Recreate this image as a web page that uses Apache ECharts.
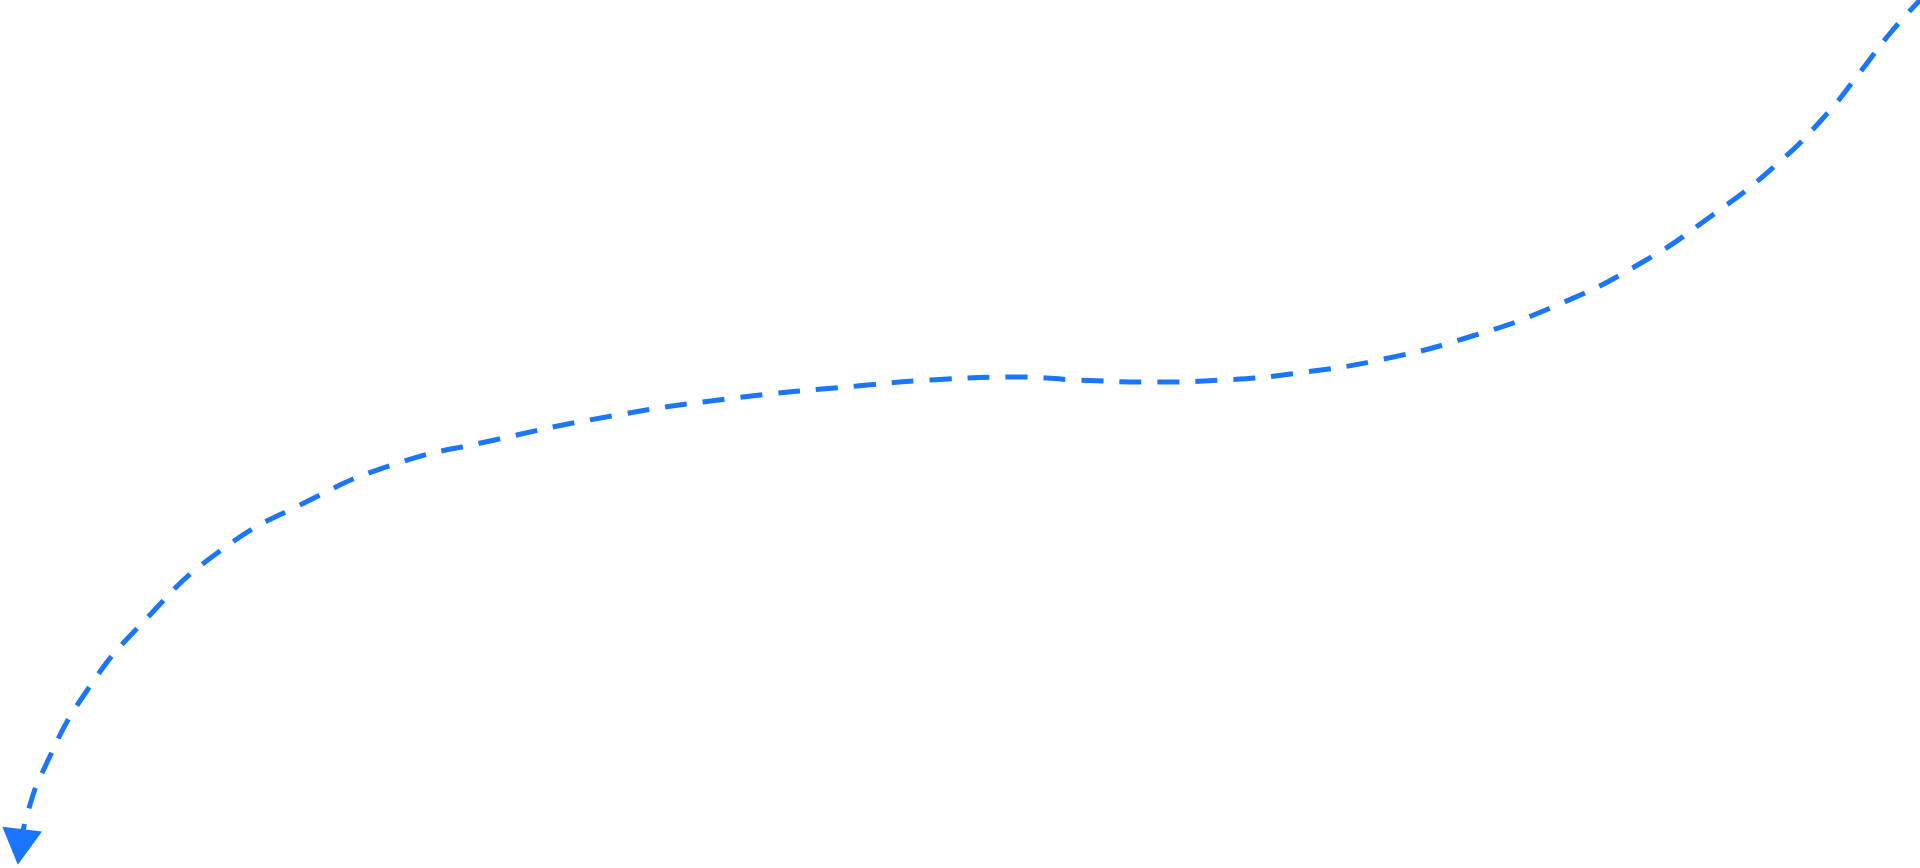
<!DOCTYPE html>
<html><head><meta charset="utf-8">
<script src="https://cdn.jsdelivr.net/npm/echarts@6/dist/echarts.min.js"></script>
<style>html,body{margin:0;padding:0;background:#fff}#c{width:1920px;height:868px}</style>
</head><body><div id="c"></div>
<script>
const xs = [1924, 1892, 1861, 1825, 1776, 1714, 1641, 1555, 1469, 1384, 1298, 1224, 1151, 1078, 1016, 931, 857, 735, 612, 490, 392, 306, 220, 147, 86, 43, 27, 20];
const ys = [-4, 31, 71, 116, 165, 214, 263, 306, 337, 359, 373, 380, 382, 380, 377, 380, 386, 398, 416, 441, 465, 502, 551, 618, 692, 771, 815, 847];
const pts = xs.map((x, i) => i === xs.length - 1
  ? {value: [x, ys[i]], symbol: 'triangle', symbolSize: [40, 36], symbolRotate: 173, itemStyle: {color: '#1a75ff'}}
  : [x, ys[i]]);
const chart = echarts.init(document.getElementById('c'));
chart.setOption({
  animation: false,
  grid: {left: 0, right: 0, top: 0, bottom: 0},
  xAxis: {type: 'value', min: 0, max: 1920, show: false},
  yAxis: {type: 'value', min: 0, max: 868, inverse: true, show: false},
  series: [{
    type: 'line', smooth: 0.5, data: pts, symbol: 'none', showSymbol: true,
    lineStyle: {color: '#1a75ff', width: 5, type: [22, 16]}
  }]
});
</script></body></html>
